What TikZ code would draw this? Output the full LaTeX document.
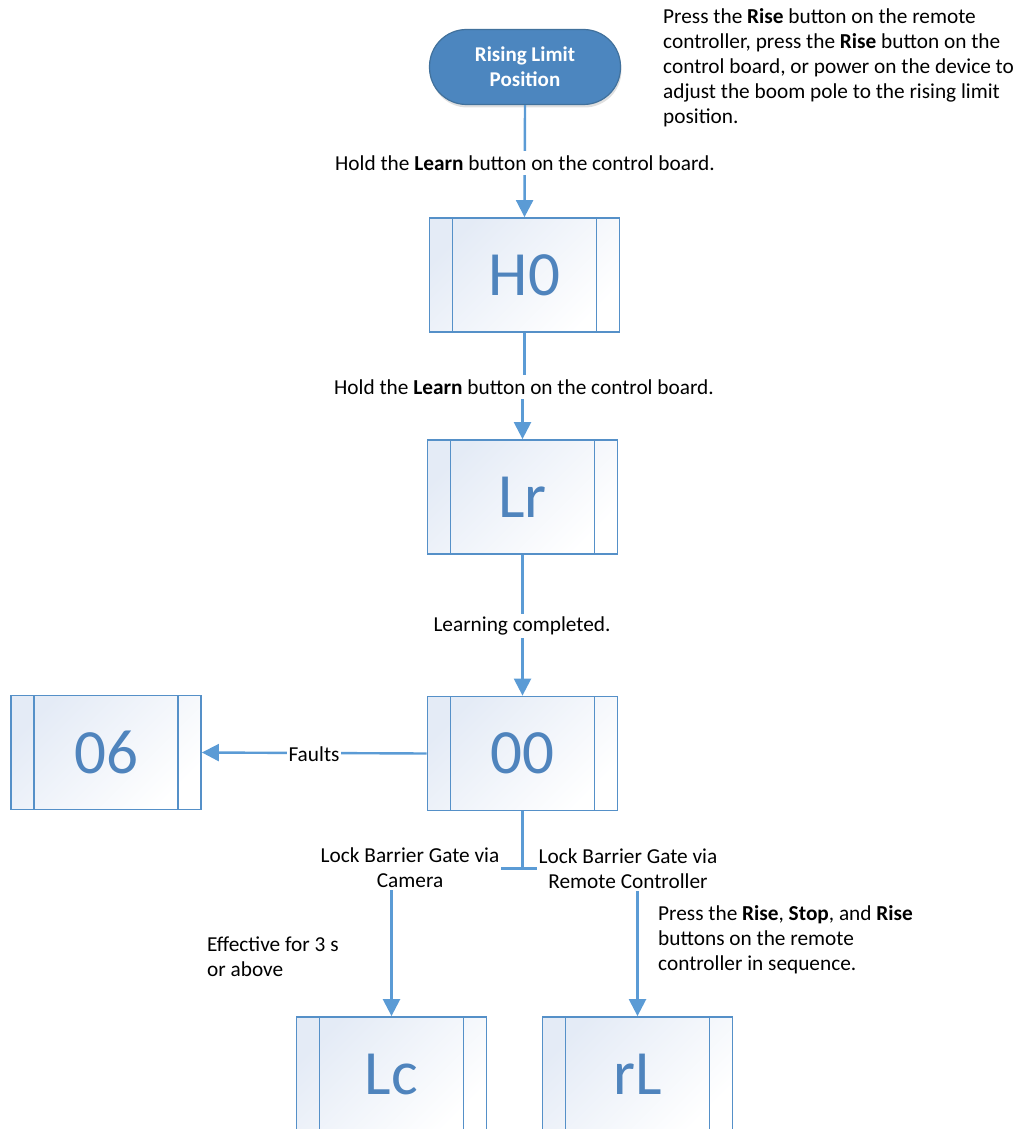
\documentclass[tikz,border=0pt]{standalone}
\usepackage{fontspec}
\setmainfont{Carlito}
\usetikzlibrary{arrows.meta,shadows}
\definecolor{conncol}{HTML}{5B9BD5}
\definecolor{boxln}{HTML}{5590C8}
\definecolor{boxtxt}{HTML}{4F84BD}
\definecolor{termfill}{HTML}{4C86BF}
\definecolor{termln}{HTML}{41719C}
\definecolor{boxtop}{HTML}{E4EBF6}
\tikzset{
  connector/.style={draw=conncol, line width=2.4pt, -{Triangle[width=17pt,length=17pt]}},
  statebox/.style={rectangle, draw=boxln, line width=1.8pt,
    minimum width=190pt, minimum height=114pt,
    top color=boxtop, bottom color=white, shading angle=45,
    text=boxtxt, font=\fontsize{63}{70}\selectfont,
    path picture={\draw[boxln, line width=1.8pt]
      ([xshift=23pt]path picture bounding box.north west) -- ([xshift=23pt]path picture bounding box.south west)
      ([xshift=-23pt]path picture bounding box.north east) -- ([xshift=-23pt]path picture bounding box.south east);}},
  terminal/.style={rectangle, rounded corners=37pt, draw=termln, line width=1.2pt, fill=termfill,
    minimum width=191pt, minimum height=75pt, text=white, align=center,
    font=\fontsize{21}{25}\selectfont\bfseries,
    drop shadow={opacity=0.25, shadow xshift=1pt, shadow yshift=-3pt}},
  lbl/.style={fill=white, inner sep=2pt, align=center, font=\fontsize{21.3}{25}\selectfont},
  note/.style={inner sep=0pt, align=left, font=\fontsize{21.3}{25}\selectfont},
}
\begin{document}
\begin{tikzpicture}[x=1pt, y=-1pt]
\useasboundingbox (0,0) rectangle (1019,1129);
\node[terminal] (term) at (525,67) {Rising Limit\\Position};
\node[statebox] (H0) at (524.5,275) {H0};
\node[statebox] (Lr) at (522.5,497) {Lr};
\node[statebox] (n00) at (522.5,753.5) {00};
\node[statebox] (n06) at (106,752.5) {06};
\node[statebox] (Lc) at (391.5,1074) {Lc};
\node[statebox] (rL) at (637.5,1074) {rL};

\draw[connector] (term.south) -- (H0.north);
\draw[connector] (H0.south) -- ++(0,50) -| (Lr.north);
\draw[connector] (Lr.south) -- (n00.north);
\draw[connector] (n00.west) -- (n06.east);
\draw[connector] (n00.south) -- ++(0,57) -| (Lc.north);
\draw[connector] (n00.south) -- ++(0,57) -| (rL.north);

\node[lbl, inner ysep=5pt] (l1) at (525,163) {Hold the \textbf{Learn} button on the control board.};
\node[lbl, inner ysep=5pt] (l2) at (524,387) {Hold the \textbf{Learn} button on the control board.};
\node[lbl, inner ysep=3pt] (l3) at (522,626) {Learning completed.};
\node[lbl] (l4) at (314,754) {Faults};
\node[lbl] (l5) at (410,868) {Lock Barrier Gate via\\Camera};
\node[lbl] (l6) at (628,869) {Lock Barrier Gate via\\Remote Controller};

\node[note, anchor=west] (t1) at (663,68) {Press the \textbf{Rise} button on the remote\\controller, press the \textbf{Rise} button on the\\control board, or power on the device to\\adjust the boom pole to the rising limit\\position.};
\node[note, anchor=west] (t2) at (207,957) {Effective for 3 s\\or above};
\node[note, anchor=west] (t3) at (658,940) {Press the \textbf{Rise}, \textbf{Stop}, and \textbf{Rise}\\buttons on the remote\\controller in sequence.};
\end{tikzpicture}
\end{document}
